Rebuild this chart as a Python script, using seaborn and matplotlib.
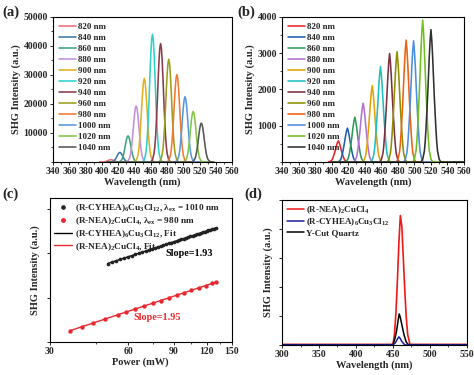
import matplotlib

matplotlib.use("Agg")
import matplotlib.pyplot as plt
import numpy as np
import pandas as pd
import seaborn as sns
from matplotlib.lines import Line2D
from matplotlib.ticker import FixedFormatter, FixedLocator, MultipleLocator, NullFormatter

sns.set_style("ticks")
plt.rcParams.update({
    "font.family": ["Liberation Serif", "DejaVu Serif"],
    "font.weight": "bold",
    "axes.labelweight": "bold",
    "mathtext.fontset": "custom",
    "mathtext.rm": "Liberation Serif:bold",
    "mathtext.it": "Liberation Serif:italic:bold",
    "mathtext.bf": "Liberation Serif:bold",
    "axes.linewidth": 0.8,
    "xtick.direction": "out",
    "ytick.direction": "out",
    "xtick.major.size": 2.5,
    "ytick.major.size": 2.5,
    "xtick.minor.size": 1.3,
    "ytick.minor.size": 1.3,
    "xtick.major.width": 0.7,
    "ytick.major.width": 0.7,
    "xtick.major.pad": 1.2,
    "ytick.major.pad": 1.2,
})

# ---- panel (a) / (b): SHG spectra under different excitation wavelengths
EXCITATION = ["820 nm", "840 nm", "860 nm", "880 nm", "900 nm", "920 nm",
              "940 nm", "960 nm", "980 nm", "1000 nm", "1020 nm", "1040 nm"]
A_CENTERS = [411, 422, 432, 442, 452, 462, 472, 482, 492, 502, 512, 522]
A_HEIGHTS = [800, 3300, 9000, 19300, 28800, 44000, 40800, 35400, 30100, 22500, 17400, 13400]
B_CENTERS = [408, 419, 428, 438, 449, 459, 470, 479, 490, 499, 510, 520]
B_HEIGHTS = [585, 933, 1235, 1620, 2105, 2630, 2990, 3040, 3360, 3340, 3910, 3650]

# peak shape (offset in nm, relative intensity)
A_OFFSETS = [-14, -12, -10, -8, -7, -6, -5, -4, -3, -2, -1, 0,
             1, 2, 3, 4, 5, 6, 7, 8, 10, 12, 14]
A_PROFILE = [0.0, 0.003, 0.017, 0.073, 0.135, 0.23, 0.36, 0.52, 0.693, 0.85, 0.96, 1.0,
             0.96, 0.85, 0.693, 0.52, 0.36, 0.23, 0.135, 0.073, 0.017, 0.003, 0.0]
B_OFFSETS = [-12, -10, -8, -7, -6, -5, -4, -3, -2, -1, 0, 1, 2, 3, 4, 5, 6, 7, 8, 10, 12]
B_PROFILE = [0.0, 0.02, 0.08, 0.15, 0.25, 0.37, 0.5, 0.65, 0.8, 0.92, 1.0,
             0.92, 0.8, 0.65, 0.5, 0.37, 0.25, 0.15, 0.08, 0.02, 0.0]
A_BASE = [405, 537]
B_BASE = [400, 560]

A_COLORS = ["#EC6F78", "#3B78A6", "#3FA57E", "#C490D8", "#E2B021", "#2FD0CE",
            "#8A3C4C", "#9E9E1E", "#F07B32", "#5698DE", "#82C544", "#555555"]
B_COLORS = ["#E8232C", "#1F5FA8", "#2E9A5C", "#B272D2", "#E2A302", "#20BFC0",
            "#7B3142", "#8F8F00", "#F06012", "#4A8FE0", "#6FC020", "#303030"]

# ---- panel (c): power dependence
C_POWER_CY = [50, 52, 54, 56, 58, 60, 62, 64, 66, 68, 70, 72, 74, 76, 78, 80, 82, 84,
              86, 88, 90, 92, 94, 96, 98, 100, 102, 104, 106, 108, 110, 112, 114, 116,
              118, 120, 122, 124, 126, 128, 130]
C_INT_CY = [58.2, 62.8, 67.5, 72.4, 77.5, 82.7, 88.1, 93.7, 99.5, 105.3, 111.4, 117.6,
            124.0, 130.6, 137.3, 144.1, 151.2, 158.4, 165.7, 173.2, 180.9, 188.8, 196.8,
            204.9, 213.3, 221.7, 230.4, 239.2, 248.2, 257.3, 266.5, 276.0, 285.5, 295.3,
            305.2, 315.2, 325.5, 335.8, 346.4, 357.0, 368.0]
C_POWER_NEA = [36, 40, 44, 49, 55, 59, 64, 69, 75, 80, 86, 92, 98, 105, 112, 119, 126, 130]
C_INT_NEA = [1.81, 2.22, 2.67, 3.30, 4.14, 4.74, 5.55, 6.43, 7.57, 8.58, 9.89, 11.3,
             12.7, 14.6, 16.5, 18.6, 20.8, 22.1]
C_TICKS = [30, 60, 90, 120, 150]

# ---- panel (d): comparison with quartz
D_RED_X = [300, 450, 452, 454, 456, 458, 460, 462, 464, 466, 468, 470, 473, 550]
D_RED_Y = [0.02, 0.02, 0.35, 1.1, 2.2, 3.5, 4.46, 4.1, 3.0, 1.9, 0.95, 0.35, 0.02, 0.02]
D_BLACK_X = [300, 450, 453, 455, 457, 458.5, 460, 462, 465, 468, 471, 550]
D_BLACK_Y = [0.01, 0.01, 0.25, 0.5, 0.85, 1.07, 0.95, 0.7, 0.35, 0.1, 0.01, 0.01]
D_BLUE_X = [300, 450, 453, 456, 458, 460, 462, 465, 467, 550]
D_BLUE_Y = [0.0, 0.0, 0.07, 0.2, 0.28, 0.22, 0.12, 0.03, 0.0, 0.0]

NEA = "(R-NEA)$_2$CuCl$_4$"
CY = "(R-CYHEA)$_6$Cu$_3$Cl$_{12}$"

TICK_FS = 7
LABEL_FS = 7.5


def spectra_frame(centers, heights, offsets, profile, base):
    rows = []
    for lab, c, h in zip(EXCITATION, centers, heights):
        xs = [base[0]] + [c + o for o in offsets] + [base[1]]
        ys = [0.0] + [h * p for p in profile] + [0.0]
        rows.append(pd.DataFrame({"wl": xs, "I": ys, "ex": lab}))
    return pd.concat(rows, ignore_index=True)


def spectra_panel(ax, df, colors, ymax, ystep):
    sns.lineplot(data=df, x="wl", y="I", hue="ex", palette=colors, ax=ax,
                 estimator=None, sort=False, linewidth=1.15)
    ax.set_xlim(340, 560)
    ax.set_ylim(0, ymax)
    ax.xaxis.set_major_locator(MultipleLocator(20))
    ax.xaxis.set_minor_locator(MultipleLocator(10))
    ax.yaxis.set_major_locator(FixedLocator(np.arange(ystep, ymax + 1, ystep)))
    ax.yaxis.set_minor_locator(MultipleLocator(ystep / 2))
    ax.tick_params(labelsize=TICK_FS)
    ax.set_xlabel("Wavelength (nm)", fontsize=LABEL_FS, labelpad=1)
    ax.set_ylabel("SHG Intensity (a.u.)", fontsize=LABEL_FS, labelpad=2)
    ax.legend(loc="upper left", frameon=False, fontsize=6.4, handlelength=1.9,
              handletextpad=0.3, labelspacing=0.31, borderaxespad=0.25)


def main():
    fig = plt.figure(figsize=(4.74, 3.75), dpi=100)
    ax_a = fig.add_axes([0.112, 0.568, 0.378, 0.387])
    ax_b = fig.add_axes([0.595, 0.568, 0.384, 0.387])
    ax_c = fig.add_axes([0.105, 0.088, 0.384, 0.384])
    ax_d = fig.add_axes([0.595, 0.080, 0.390, 0.387])

    spectra_panel(ax_a, spectra_frame(A_CENTERS, A_HEIGHTS, A_OFFSETS, A_PROFILE, A_BASE),
                  A_COLORS, 50000, 10000)
    spectra_panel(ax_b, spectra_frame(B_CENTERS, B_HEIGHTS, B_OFFSETS, B_PROFILE, B_BASE),
                  B_COLORS, 4000, 1000)

    # (c) log-log power dependence with linear fits
    red = "#E8282E"
    sns.scatterplot(x=C_POWER_CY, y=C_INT_CY, ax=ax_c, color="#222222", s=7,
                    linewidth=0, zorder=3)
    sns.scatterplot(x=C_POWER_NEA, y=C_INT_NEA, ax=ax_c, color=red, s=10,
                    linewidth=0, zorder=3)
    for px, py, col in [(C_POWER_CY, C_INT_CY, "black"), (C_POWER_NEA, C_INT_NEA, red)]:
        k, b = np.polyfit(np.log10(px), np.log10(py), 1)
        fx = np.array([px[0], px[-1]])
        sns.lineplot(x=fx, y=10 ** (b + k * np.log10(fx)), ax=ax_c, color=col,
                     linewidth=1.0, zorder=2)
    ax_c.set_xscale("log")
    ax_c.set_yscale("log")
    ax_c.set_xlim(30, 150)
    ax_c.set_ylim(1, 1740)
    ax_c.xaxis.set_major_locator(FixedLocator(C_TICKS))
    ax_c.xaxis.set_major_formatter(FixedFormatter([str(t) for t in C_TICKS]))
    ax_c.xaxis.set_minor_locator(FixedLocator([45, 75, 105, 135]))
    ax_c.xaxis.set_minor_formatter(NullFormatter())
    ax_c.yaxis.set_major_formatter(NullFormatter())
    ax_c.yaxis.set_minor_locator(FixedLocator([]))
    ax_c.tick_params(labelsize=TICK_FS)
    ax_c.set_xlabel("Power (mW)", fontsize=LABEL_FS, labelpad=1)
    ax_c.set_ylabel("SHG Intensity (a.u.)", fontsize=LABEL_FS, labelpad=3)
    ax_c.text(0.635, 0.6, "Slope=1.93", transform=ax_c.transAxes, fontsize=7.3, color="black")
    ax_c.text(0.46, 0.15, "Slope=1.95", transform=ax_c.transAxes, fontsize=7.3, color=red)
    handles = [
        Line2D([], [], ls="none", marker="o", ms=2.3, color="#222222"),
        Line2D([], [], ls="none", marker="o", ms=2.5, color=red),
        Line2D([], [], color="black", lw=1.0),
        Line2D([], [], color=red, lw=1.0),
    ]
    labels = [CY + ", λ$_{\\rm ex}$ = 1010 nm", NEA + ", λ$_{\\rm ex}$ = 980 nm",
              CY + ", Fit", NEA + ", Fit"]
    ax_c.legend(handles, labels, loc="upper left", frameon=False, fontsize=6.7,
                handlelength=1.9, handletextpad=0.35, labelspacing=0.12,
                borderaxespad=0.1)

    # (d) comparison with Y-cut quartz
    d_red, d_blue = "#F01818", "#1C1C9A"
    sns.lineplot(x=D_RED_X, y=D_RED_Y, ax=ax_d, color=d_red, linewidth=1.2, sort=False)
    sns.lineplot(x=D_BLACK_X, y=D_BLACK_Y, ax=ax_d, color="black", linewidth=1.1, sort=False)
    sns.lineplot(x=D_BLUE_X, y=D_BLUE_Y, ax=ax_d, color=d_blue, linewidth=1.1, sort=False)
    ax_d.set_xlim(300, 550)
    ax_d.set_ylim(0, 5)
    ax_d.xaxis.set_major_locator(MultipleLocator(50))
    ax_d.xaxis.set_minor_locator(MultipleLocator(25))
    ax_d.yaxis.set_major_locator(MultipleLocator(1))
    ax_d.yaxis.set_major_formatter(NullFormatter())
    ax_d.tick_params(labelsize=TICK_FS)
    ax_d.set_xlabel("Wavelength (nm)", fontsize=LABEL_FS, labelpad=1)
    ax_d.set_ylabel("SHG Intensity (a.u.)", fontsize=LABEL_FS, labelpad=3)
    d_handles = [Line2D([], [], color=d_red, lw=1.1),
                 Line2D([], [], color=d_blue, lw=1.1),
                 Line2D([], [], color="black", lw=1.1)]
    ax_d.legend(d_handles, [NEA, CY, "Y-Cut Quartz"], loc="upper left", frameon=False,
                fontsize=6.5, handlelength=1.9, handletextpad=0.3, labelspacing=0.08,
                borderaxespad=0.1)

    for ax in (ax_a, ax_b, ax_c, ax_d):
        for s in ax.spines.values():
            s.set_visible(True)
            s.set_color("black")

    for txt, x, y in [("(a)", 0.005, 0.985), ("(b)", 0.5, 0.985),
                      ("(c)", 0.005, 0.5), ("(d)", 0.515, 0.5)]:
        fig.text(x, y, txt, fontsize=10.5, fontweight="bold", va="top", ha="left")

    fig.savefig("out.png", dpi=100)
    plt.close(fig)


if __name__ == "__main__":
    main()
